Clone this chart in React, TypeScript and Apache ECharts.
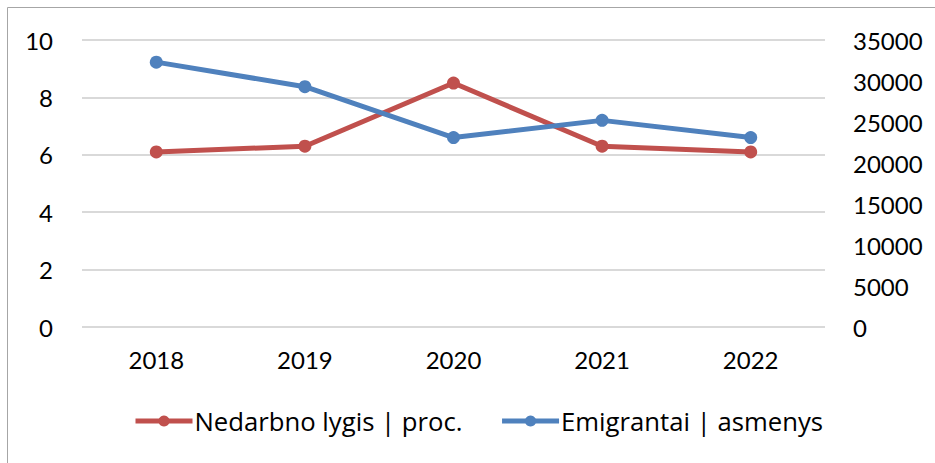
import React, { useEffect, useRef } from "react";
import * as echarts from "echarts";

const years = ["2018", "2019", "2020", "2021", "2022"];
const unemployment = [6.1, 6.3, 8.5, 6.3, 6.1];
const emigrants = [32300, 29300, 23100, 25200, 23100];
const seriesNames = ["Nedarbno lygis | proc.", "Emigrantai | asmenys"];

const FONT = "Lato, 'Open Sans', sans-serif";
const LEGEND_FONT = "'Open Sans', Lato, sans-serif";

export default function App() {
  const ref = useRef<HTMLDivElement>(null);
  useEffect(() => {
    if (!ref.current) return;
    const chart = echarts.init(ref.current, null, { renderer: "svg" });
    chart.setOption({
      animation: false,
      backgroundColor: "#ffffff",
      textStyle: { fontFamily: FONT },
      grid: { left: 82, right: 110, top: 40, bottom: 136, containLabel: false },
      graphic: [
        {
          type: "rect",
          shape: { x: 7.5, y: 7.5, width: 1000, height: 1000 },
          style: { fill: "none", stroke: "#a6a6a6", lineWidth: 1 },
          silent: true,
        },
      ],
      legend: {
        left: 133,
        top: 408,
        padding: 0,
        itemWidth: 57,
        itemHeight: 14,
        itemGap: 37,
        lineStyle: { width: 5 },
        textStyle: { fontSize: 25.7, color: "#000", fontFamily: LEGEND_FONT, padding: [0, 0, 0, -3] },
        data: seriesNames,
      },
      xAxis: {
        type: "category",
        data: years,
        boundaryGap: true,
        axisTick: { show: false },
        axisLine: { show: false },
        axisLabel: { fontSize: 24, color: "#000", margin: 20, fontFamily: FONT },
      },
      yAxis: [
        {
          type: "value",
          min: 0,
          max: 10,
          interval: 2,
          axisLine: { show: false },
          axisTick: { show: false },
          axisLabel: { fontSize: 24, color: "#000", margin: 29, fontFamily: FONT },
          splitLine: { lineStyle: { color: "#d9d9d9", width: 2 } },
        },
        {
          type: "value",
          min: 0,
          max: 35000,
          interval: 5000,
          position: "right",
          axisLine: { show: false },
          axisTick: { show: false },
          axisLabel: {
            fontSize: 24,
            color: "#000",
            margin: 28,
            fontFamily: FONT,
            formatter: (v: number) => String(v),
          },
          splitLine: { show: false },
        },
      ],
      series: [
        {
          name: seriesNames[0],
          type: "line",
          yAxisIndex: 0,
          data: unemployment,
          symbol: "circle",
          symbolSize: 13,
          itemStyle: { color: "#C0504D" },
          lineStyle: { color: "#C0504D", width: 5 },
        },
        {
          name: seriesNames[1],
          type: "line",
          yAxisIndex: 1,
          data: emigrants,
          symbol: "circle",
          symbolSize: 13,
          itemStyle: { color: "#4F81BD" },
          lineStyle: { color: "#4F81BD", width: 5 },
        },
      ],
    });
    return () => chart.dispose();
  }, []);
  return (
    <div
      ref={ref}
      style={{ position: "fixed", left: 0, top: 0, width: 935, height: 463 }}
    />
  );
}
